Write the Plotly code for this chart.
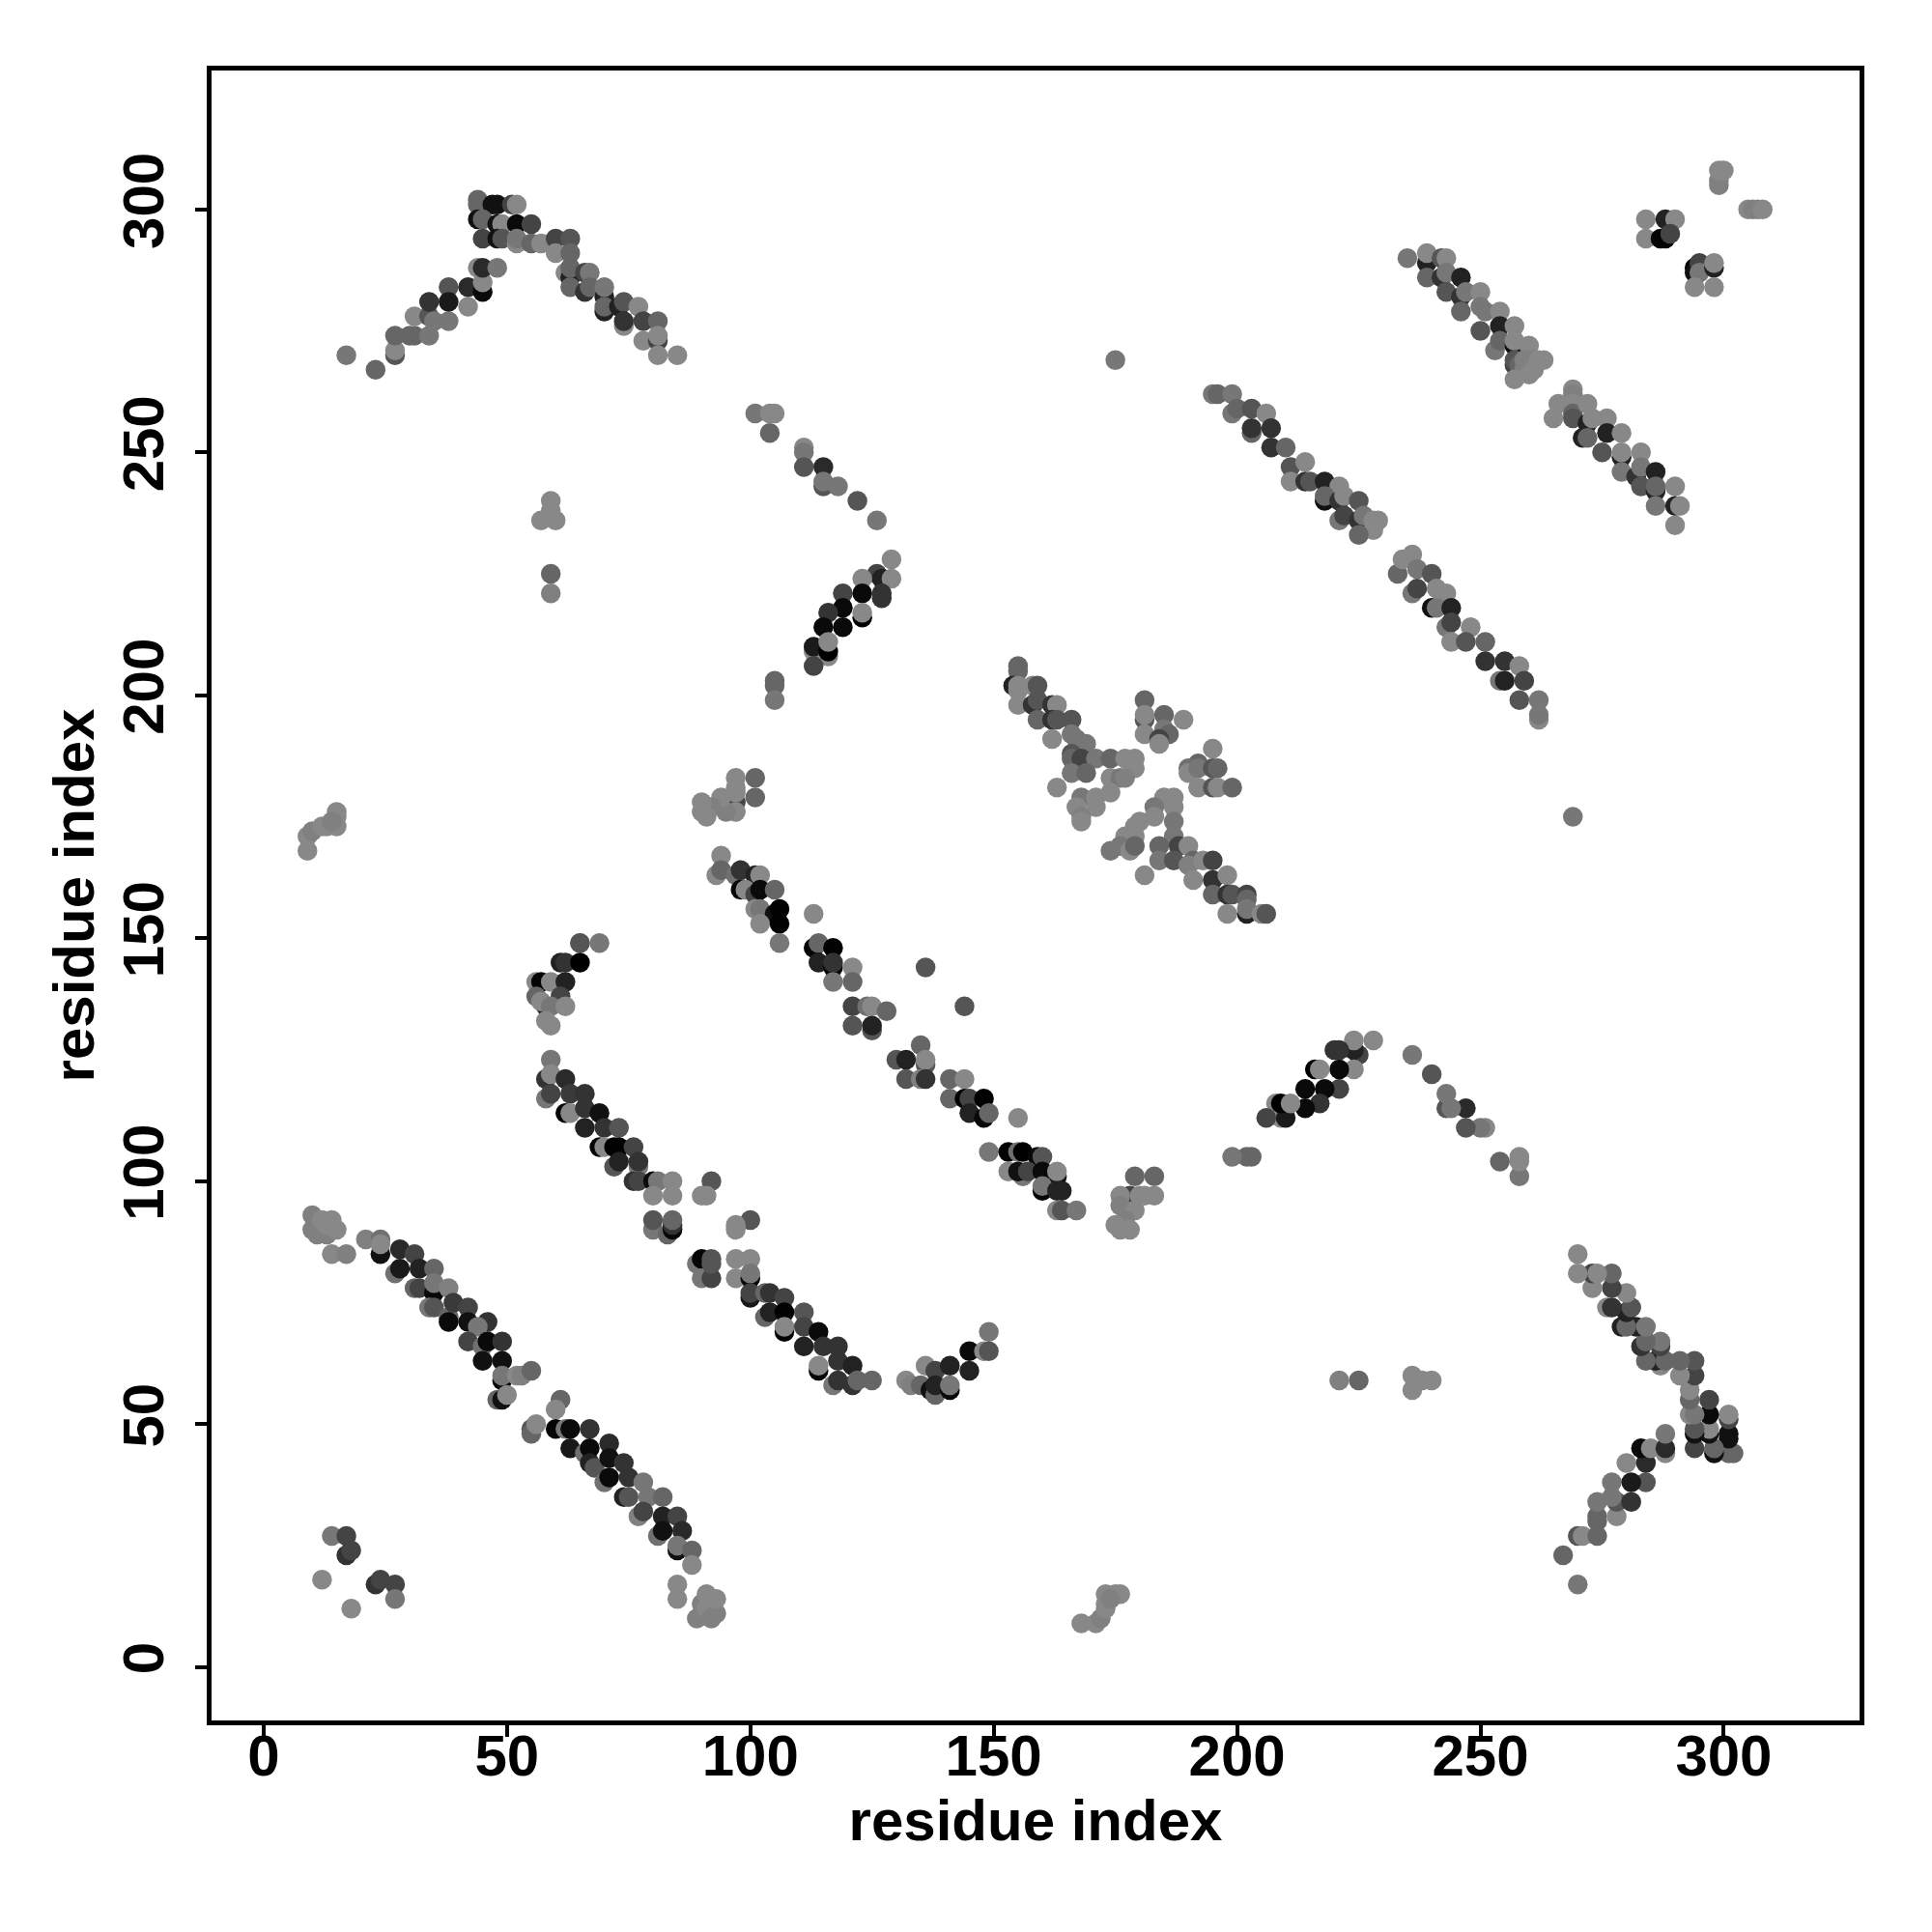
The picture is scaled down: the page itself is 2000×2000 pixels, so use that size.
import plotly.graph_objects as go

# each contact: (residue x, residue y, gray level)
band_a = [(10,93,0x80),(10,90,0x80),(11,89,0x80),(13,89,0x80),(12,92,0x88),(14,92,0x88),(15,90,0x88),(13,91,0x88),(14,85,0x88),(17,85,0x80),
(21,88,0x80),(24,88,0x70),(24,85,0x11),(24,87,0x88),(28,86,0x2a),(31,85,0x44),(27,81,0x70),(28,82,0x1a),(32,82,0x22),(35,82,0x66),
(31,78,0x66),(32,78,0x44),(35,77,0x08),(35,79,0x77),(38,78,0x80),(34,74,0x77),(35,74,0x55),(38,72,0x66),(39,75,0x3a),(42,74,0x44),(38,71,0x0a),(42,71,0x11),(46,71,0x33),
(44,70,0x77),(42,67,0x44),(45,66,0x70),(46,67,0x0a),(49,67,0x33),(45,63,0x11),(49,63,0x11),(49,59,0x08),(49,60,0x77),(52,60,0x88),(53,60,0x80),(55,61,0x66),
(48,55,0x66),(49,55,0x11),(50,56,0x88),(61,55,0x66),(60,53,0x88),(55,49,0x55),(55,48,0x66),(56,50,0x88),(60,49,0x05),(62,49,0x77),(63,49,0x0a),(67,49,0x33),(63,45,0x18),
(66,44,0x70),(67,45,0x0a),(71,46,0x2a),(67,42,0x22),(68,41,0x55),(71,43,0x11),(74,42,0x33),(70,38,0x70),(71,39,0x0a),(75,39,0x33),(78,38,0x77),(74,35,0x22),(75,35,0x55),(79,35,0x77),(82,35,0x66),
(77,31,0x80),(78,32,0x44),(82,31,0x22),(85,31,0x44),(81,27,0x70),(82,28,0x11),(86,28,0x2a),(85,24,0x11),(85,25,0x77),(88,24,0x66),(88,21,0x88),(85,17,0x88),(85,14,0x88),
(89,10,0x80),(90,13,0x80),(90,11,0x80),(91,15,0x88),(92,14,0x88),(91,12,0x88),(93,11,0x80),(93,14,0x88),(92,10,0x80)]

corner = [(14,27,0x77),(17,27,0x44),(17,23,0x33),(18,24,0x44),(12,18,0x88),(23,17,0x33),(24,18,0x44),(27,17,0x44),(27,14,0x77),(18,12,0x88)]

band_b = [(59,125,0x77),(58,121,0x33),(59,122,0x88),(62,121,0x2a),(58,117,0x77),(59,118,0x44),(63,118,0x3a),(66,118,0x33),
(62,114,0x05),(63,114,0x88),(66,115,0x33),(69,114,0x11),(66,111,0x22),(70,111,0x33),(73,111,0x55),(69,107,0x05),(70,107,0x88),(72,107,0x02),(73,107,0x02),(76,107,0x44),
(72,103,0x55),(73,104,0x22),(77,103,0x77),(77,104,0x33),(76,100,0x33),(77,100,0x44),(80,100,0x0a),(81,100,0x77),(84,100,0x88),(80,97,0x88),(84,97,0x88),
(92,100,0x55),(90,97,0x88),(91,97,0x88),(80,90,0x77),(80,92,0x55),(83,89,0x66),(84,90,0x08),(84,91,0x33),(84,92,0x66),
(100,92,0x55),(97,91,0x88),(97,90,0x88),(89,83,0x77),(90,84,0x05),(90,80,0x77),(92,80,0x44),(92,84,0x55),(92,83,0x55),
(97,84,0x88),(100,84,0x88),(97,80,0x88),(100,80,0x08),(100,81,0x77),(100,76,0x18),(100,77,0x44),(103,77,0x66),(104,77,0x33),(107,76,0x44),
(103,72,0x66),(104,73,0x22),(107,73,0x02),(107,69,0x05),(107,70,0x88),(111,73,0x55),(111,70,0x44),(114,69,0x0a),(111,66,0x22),(115,66,0x33),(118,66,0x33),
(114,61,0x08),(114,62,0x88),(118,63,0x33),(121,62,0x22),(117,58,0x77),(118,59,0x33),(121,58,0x33),(122,59,0x66),(125,59,0x66)]

arc_low = [(132,59,0x88),(133,58,0x80),(136,62,0x88),(135,58,0x66),(137,57,0x11),(138,61,0x44),(138,56,0x66),(138,58,0x22),(141,62,0x22),(141,57,0x08),(141,58,0x77),
(145,65,0x0a),(145,61,0x22),(148,65,0x88),(149,69,0x77),(149,65,0x55)]

arc_up = [(65,149,0x88),(65,149,0x55),(69,149,0x77),(61,145,0x22),(62,145,0x33),(65,145,0x00),(56,141,0x88),(57,141,0x05),(59,141,0x88),(62,141,0x22),
(56,138,0x66),(61,138,0x44),(58,136,0x22),(57,137,0x88),(59,136,0x77),(62,136,0x88),(58,133,0x88),(59,132,0x88)]

band_d = [(94,167,0x88),(93,163,0x88),(94,164,0x66),(97,163,0x70),(98,164,0x33),(101,163,0x22),(102,163,0x88),(98,160,0x08),(99,160,0x88),(101,159,0x44),(102,160,0x0a),(105,160,0x66),
(101,156,0x88),(102,156,0x77),(105,155,0x11),(106,156,0x02),(102,153,0x88),(106,153,0x02),(106,149,0x77),(113,155,0x88),
(113,148,0x05),(114,149,0x66),(117,148,0x02),(114,145,0x22),(117,144,0x08),(117,145,0x33),(121,144,0x88),(117,141,0x77),(121,141,0x66),(136,144,0x55),(144,136,0x55),
(121,136,0x44),(124,136,0x70),(125,136,0x88),(128,135,0x66),(121,132,0x55),(125,131,0x55),(125,132,0x22),(135,128,0x66),(130,125,0x55),(132,125,0x22),(136,124,0x55),(136,125,0x88),
(132,121,0x55),(135,121,0x80),(136,121,0x33),(141,121,0x66),(144,121,0x88),(141,117,0x66),(144,117,0x02),(145,117,0x44),(148,117,0x02),(145,114,0x22),(148,113,0x08),(149,114,0x66),
(155,113,0x88),(149,106,0x77),(153,106,0x02),(155,106,0x70),(156,106,0x00),(159,105,0x08),(160,105,0x55),(153,102,0x88),(156,101,0x77),(155,102,0x11),(157,102,0x44),(160,102,0x0a),(163,101,0x11),(163,102,0x88),
(160,98,0x05),(160,99,0x77),(163,98,0x22),(164,98,0x22),(163,94,0x88),(164,94,0x55),(167,94,0x77)]

band_e = [(155,206,0x66),(155,205,0x66),(154,202,0x22),(155,201,0x88),(155,202,0x88),(158,202,0x88),(159,202,0x55),(155,198,0x88),(158,198,0x33),(159,199,0x55),
(162,198,0x33),(163,198,0x88),(159,195,0x66),(162,195,0x33),(163,195,0x55),(166,195,0x55),(162,191,0x88),(166,192,0x77),(167,191,0x77),(169,190,0x77),
(166,188,0x55),(166,187,0x66),(168,187,0x44),(171,187,0x77),(174,187,0x66),(177,187,0x88),(179,187,0x88),(179,185,0x88),(174,183,0x88),(176,183,0x77),(177,183,0x80),
(166,184,0x77),(169,184,0x66),(163,181,0x88),(181,199,0x66),(181,195,0x55),(181,196,0x88),(185,196,0x66),(189,195,0x88),(181,192,0x88),(185,193,0x77),(186,192,0x66),(184,191,0x44),(184,190,0x88),
(195,189,0x88),(192,186,0x66),(190,185,0x70),(190,184,0x88),(192,185,0x77),(195,185,0x55),(196,185,0x66),(192,181,0x88),(195,181,0x55),(196,181,0x88),(199,181,0x66),
(168,179,0x77),(171,179,0x88),(174,180,0x88),(167,177,0x88),(171,177,0x88),(168,175,0x80),(168,174,0x88),
(185,179,0x88),(187,179,0x88),(187,177,0x88),(183,177,0x77),(183,175,0x88),(187,174,0x77),(180,174,0x88),(179,173,0x88),(177,171,0x88),(179,171,0x88),(187,171,0x77),
(174,168,0x77),(176,169,0x77),(178,168,0x88),(179,169,0x66),(184,169,0x66),(184,166,0x77),(181,163,0x88),(188,169,0x44),(190,169,0x88),(187,166,0x55),(191,166,0x66),(190,165,0x80),
(193,166,0x88),(195,166,0x44),(191,162,0x88),(195,162,0x33),(198,163,0x88),(195,159,0x66),(198,159,0x33),(199,159,0x55),(202,159,0x44),(202,158,0x66),(198,155,0x88),(202,155,0x22),(202,156,0x77),(205,155,0x88),(206,155,0x55)]

band_i = [(195,262,0x77),(196,262,0x66),(199,262,0x77),(199,258,0x77),(200,259,0x66),(203,259,0x55),(206,258,0x88),(203,254,0x66),(203,255,0x33),(207,255,0x33),(207,251,0x33),(210,251,0x66),
(211,247,0x55),(214,248,0x88),(211,244,0x88),(214,244,0x33),(215,244,0x55),(218,244,0x22),(221,243,0x88),(218,240,0x11),(218,241,0x66),(221,240,0x33),(222,241,0x88),(225,240,0x55),
(221,236,0x77),(222,237,0x44),(225,236,0x33),(226,237,0x77),(228,236,0x88),(229,236,0x88),(228,234,0x88),(225,233,0x66),
(233,225,0x66),(234,228,0x88),(236,229,0x88),(237,226,0x77),(240,225,0x55),(236,221,0x77),(237,222,0x44),(241,222,0x88),(243,221,0x88),(240,218,0x11),(241,218,0x77),(244,218,0x22),
(243,214,0x77),(244,215,0x44),(248,214,0x88),(244,211,0x88),(247,211,0x55),(251,211,0x66),(251,207,0x33),(255,207,0x33),(258,206,0x88),(254,203,0x77),(255,203,0x22),(259,203,0x44),(258,199,0x55),(262,199,0x77),(262,195,0x88),(262,196,0x77)]

band_j = [(235,290,0x77),(239,289,0x22),(239,291,0x88),(239,286,0x66),(242,290,0x55),(243,290,0x88),(242,286,0x33),(243,287,0x77),(246,286,0x22),(243,283,0x55),(246,282,0x33),(247,283,0x77),(250,283,0x88),
(246,279,0x66),(250,280,0x77),(251,279,0x77),(254,279,0x88),(250,275,0x55),(254,276,0x22),(257,276,0x88),(253,271,0x77),(254,273,0x66),(257,272,0x11),(257,273,0x88),(260,272,0x88),
(257,268,0x44),(257,269,0x55),(258,268,0x66),(259,269,0x80),(259,267,0x80),(261,269,0x80),(261,267,0x88),(262,269,0x88),(263,269,0x88),(260,266,0x88),(257,265,0x88),
(269,263,0x88),(269,262,0x80),(269,261,0x80),(266,260,0x88),(265,257,0x88),(269,260,0x88),(269,258,0x66),(269,257,0x55),(272,256,0x22),(272,260,0x88),(273,257,0x88),(276,257,0x88),(271,253,0x22),(272,253,0x66),(276,254,0x22),(279,254,0x88),
(275,250,0x55),(279,249,0x22),(279,250,0x88),(283,250,0x88),(279,246,0x77),(282,245,0x33),(283,247,0x77),(286,246,0x22),(283,243,0x55),(286,242,0x22),(286,243,0x66),(290,243,0x88),(286,239,0x77),(290,239,0x22),(291,239,0x88),(290,235,0x88)]

corner_k = [(284,298,0x88),(284,294,0x88),(288,298,0x22),(290,298,0x88),(287,294,0x05),(288,294,0x02),(289,295,0x44),(294,288,0x05),(294,287,0x11),(295,289,0x44),(295,287,0x77),(298,288,0x22),(298,289,0x88),(294,284,0x88),(298,284,0x88),
(299,305,0x80),(299,306,0x80),(299,308,0x88),(300,308,0x88),(305,300,0x88),(306,300,0x80),(307,300,0x80),(308,300,0x88)]

# contacts read on one side of the diagonal only; the matrix is symmetric
arm_h = [(17,270,0x77),(23,267,0x66),(27,270,0x55),(27,271,0x88),(27,274,0x66),(30,274,0x66),(31,274,0x66),(34,274,0x77),(31,278,0x88),(34,278,0x55),(35,277,0x77),(38,277,0x77),(34,281,0x33),(38,284,0x55),(38,281,0x1a),
(42,280,0x88),(42,284,0x2a),(45,283,0x0a),(45,285,0x88),(44,288,0x88),(45,288,0x2a),(48,288,0x77),(44,302,0x66),(44,301,0x66),(47,301,0x11),(48,301,0x11),(51,301,0x44),(52,301,0x88),
(44,298,0x11),(45,298,0x66),(48,297,0x11),(49,297,0x88),(52,297,0x0a),(55,297,0x44),(45,294,0x44),(48,294,0x11),(49,294,0x55),(52,293,0x88),(52,294,0x77),(55,293,0x66),(57,293,0x88),
(59,293,0x88),(60,294,0x44),(63,294,0x55),(60,291,0x88),(63,291,0x66),(62,287,0x88),(63,286,0x22),(63,288,0x66),(63,284,0x66),(66,287,0x44),(67,287,0x77),(66,283,0x33),(67,284,0x66),
(70,282,0x22),(70,284,0x77),(70,279,0x22),(70,280,0x66),(73,280,0x22),(74,281,0x55),(77,280,0x88),(74,276,0x88),(74,277,0x33),(78,277,0x44),(81,277,0x66),(78,273,0x88),(81,273,0x44),(81,274,0x88),(81,270,0x88),(85,270,0x88)]

arm_g = [(101,258,0x77),(104,258,0x88),(105,258,0x88),(104,254,0x66),(111,251,0x88),(111,250,0x77),(111,247,0x55),(115,247,0x2a),(115,243,0x55),(115,244,0x77),(118,243,0x77),(122,240,0x55),(126,236,0x77),
(129,228,0x88),(126,225,0x44),(127,224,0x22),(129,224,0x88),(123,224,0x88),(119,221,0x44),(123,221,0x0a),(127,220,0x33),(127,221,0x33),(119,218,0x0a),(123,216,0x00),(123,217,0x88),(116,217,0x33),(115,214,0x0a),(119,214,0x0a),
(113,209,0x88),(113,210,0x1a),(116,208,0x88),(116,209,0x00),(116,211,0x88),(113,206,0x44),(105,203,0x66),(105,202,0x66),(105,199,0x77)]

cluster_f = [(179,101,0x66),(183,101,0x66),(178,97,0x44),(176,97,0x88),(180,97,0x88),(181,97,0x88),(183,97,0x88),(176,95,0x80),(179,94,0x88),(177,92,0x80),(175,91,0x88),(178,90,0x88),(176,90,0x88)]
cluster_l = [(9,171,0x88),(9,168,0x88),(10,172,0x80),(12,173,0x88),(13,173,0x88),(15,175,0x88),(15,173,0x88),(15,176,0x88),(14,174,0x80)]
column_m = [(59,240,0x88),(59,238,0x88),(57,236,0x88),(60,236,0x88),(59,225,0x66),(59,221,0x80)]
single_n = [(175,269,0x77)]

as_read = [band_a, corner, band_b, arc_low, arc_up, band_d, band_e, band_i, band_j, corner_k]
both_sides = [arm_h, arm_g, cluster_f, cluster_l, column_m, single_n]

xs, ys, colors = [], [], []
for region in as_read:
    for x, y, g in region:
        xs.append(x); ys.append(y); colors.append(f"rgb({g},{g},{g})")
for region in both_sides:
    for x, y, g in region:
        xs += [x, y]; ys += [y, x]; colors += [f"rgb({g},{g},{g})"] * 2

tick_vals = [0, 50, 100, 150, 200, 250, 300]
tick_text = ["0", "50", "100", "150", "200", "250", "300"]
FONT = dict(family="Liberation Sans", size=60, color="black")

axis = dict(tickvals=tick_vals, ticktext=tick_text, ticks="outside", ticklen=12, tickwidth=4, tickcolor="black",
            showgrid=False, zeroline=False, showline=True, linewidth=5, linecolor="black", mirror=True,
            tickfont=dict(family="Liberation Sans", size=60, color="black", weight="bold"))

fig = go.Figure(go.Scatter(x=xs, y=ys, mode="markers", cliponaxis=True,
                           marker=dict(size=20.5, color=colors, line=dict(width=0))))
fig.update_layout(width=1992, height=1992, autosize=False, showlegend=False,
                  paper_bgcolor="white", plot_bgcolor="white",
                  margin=dict(l=211, r=75, t=65, b=219),
                  xaxis=dict(axis, range=[-10.7, 327.9], ticklabelstandoff=-32,
                             title=dict(text="<b>residue index</b>", font=FONT, standoff=5)),
                  yaxis=dict(axis, range=[-11.0, 328.6], tickangle=-90, ticklabelstandoff=9,
                             title=dict(text="<b>residue index</b>", font=FONT, standoff=0)))
fig.write_html("out.html")
